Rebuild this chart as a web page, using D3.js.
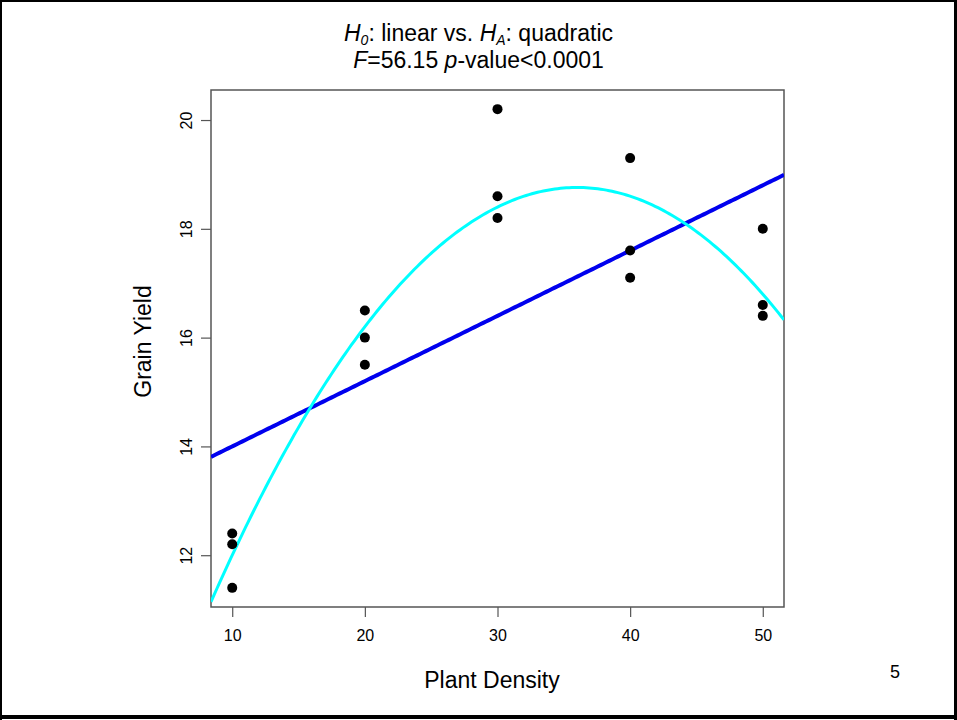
<!DOCTYPE html>
<html>
<head>
<meta charset="utf-8">
<script src="https://cdn.jsdelivr.net/npm/d3@7"></script>
<style>
  html, body { margin: 0; padding: 0; background: #fff; }
  svg { display: block; font-family: "Liberation Sans", Arial, sans-serif; }
  .tick text { font-size: 16px; font-family: "Liberation Sans", Arial, sans-serif; }
</style>
</head>
<body>
<svg id="chart" width="957" height="720"></svg>
<script>
// ---- data ----
const density    = [10, 10, 10, 20, 20, 20, 30, 30, 30, 40, 40, 40, 50, 50, 50];
const grainYield = [12.2, 12.4, 11.4, 16.0, 15.5, 16.5, 18.6, 20.2, 18.2, 17.6, 19.3, 17.1, 18.0, 16.4, 16.6];
const xTicks = [10, 20, 30, 40, 50];
const yTicks = [12, 14, 16, 18, 20];
const xLabel = "Plant Density";
const yLabel = "Grain Yield";
const fStat = "56.15";
const pText = "<0.0001";
const pageNumber = "5";

// ---- least squares fits from the data ----
function solve(A, b) {
  const n = b.length, M = A.map((r, i) => r.concat([b[i]]));
  for (let c = 0; c < n; c++) {
    let p = c;
    for (let r = c + 1; r < n; r++) if (Math.abs(M[r][c]) > Math.abs(M[p][c])) p = r;
    [M[c], M[p]] = [M[p], M[c]];
    for (let r = 0; r < n; r++) {
      if (r === c) continue;
      const f = M[r][c] / M[c][c];
      for (let k = c; k <= n; k++) M[r][k] -= f * M[c][k];
    }
  }
  return M.map((r, i) => r[n] / r[i]);
}
function polyFit(xs, ys, deg) {
  const m = deg + 1;
  const A = d3.range(m).map(i => d3.range(m).map(j => d3.sum(xs, x => Math.pow(x, i + j))));
  const b = d3.range(m).map(i => d3.sum(xs, (x, k) => Math.pow(x, i) * ys[k]));
  return solve(A, b);
}
const linCoef = polyFit(density, grainYield, 1);
const quadCoef = polyFit(density, grainYield, 2);
const evalPoly = (c, x) => c.reduce((s, a, i) => s + a * Math.pow(x, i), 0);

// ---- layout ----
const svg = d3.select("#chart");
const W = 957, H = 720;
const plot = { left: 211, right: 784, top: 90, bottom: 607 };

const xExt = d3.extent(density), yExt = d3.extent(grainYield);
const xPad = (xExt[1] - xExt[0]) * 0.04, yPad = (yExt[1] - yExt[0]) * 0.04;
const x = d3.scaleLinear().domain([xExt[0] - xPad, xExt[1] + xPad]).range([plot.left, plot.right]);
const y = d3.scaleLinear().domain([yExt[0] - yPad, yExt[1] + yPad]).range([plot.bottom, plot.top]);

// page background + outer frame
svg.append("rect").attr("x", 0).attr("y", 0).attr("width", W).attr("height", H).attr("fill", "#fff");
svg.append("rect").attr("x", 0).attr("y", 0).attr("width", W).attr("height", 2).attr("fill", "#000");
svg.append("rect").attr("x", 0).attr("y", 0).attr("width", 2).attr("height", H).attr("fill", "#000");
svg.append("rect").attr("x", W - 3).attr("y", 0).attr("width", 3).attr("height", H).attr("fill", "#000");
svg.append("rect").attr("x", 0).attr("y", H - 5).attr("width", W).attr("height", 4).attr("fill", "#000");

// clip for curves
svg.append("defs").append("clipPath").attr("id", "clip")
  .append("rect").attr("x", plot.left).attr("y", plot.top)
  .attr("width", plot.right - plot.left).attr("height", plot.bottom - plot.top);

// ---- title ----
const t1 = svg.append("text").attr("x", 478.5).attr("y", 41).attr("text-anchor", "middle")
  .attr("font-size", 23).attr("fill", "#000");
t1.append("tspan").attr("font-style", "italic").text("H");
t1.append("tspan").attr("font-style", "italic").attr("font-size", 14).attr("dy", 4).text("0");
t1.append("tspan").attr("dy", -4).text(": linear vs. ");
t1.append("tspan").attr("font-style", "italic").text("H");
t1.append("tspan").attr("font-style", "italic").attr("font-size", 14).attr("dy", 4).text("A");
t1.append("tspan").attr("dy", -4).text(": quadratic");

const t2 = svg.append("text").attr("x", 478.5).attr("y", 68).attr("text-anchor", "middle")
  .attr("font-size", 23).attr("fill", "#000");
t2.append("tspan").attr("font-style", "italic").text("F");
t2.append("tspan").text("=" + fStat + " ");
t2.append("tspan").attr("font-style", "italic").text("p");
t2.append("tspan").text("-value" + pText);

// ---- axes ----
const xAxis = svg.append("g").attr("transform", `translate(0,${plot.bottom})`)
  .call(d3.axisBottom(x).tickValues(xTicks).tickSize(10).tickSizeOuter(0).tickPadding(13));
xAxis.select(".domain").remove();
xAxis.selectAll(".tick line").attr("stroke", "#555").attr("stroke-width", 1.2);
xAxis.selectAll(".tick text").attr("fill", "#000");

const yAxis = svg.append("g").attr("transform", `translate(${plot.left},0)`)
  .call(d3.axisLeft(y).tickValues(yTicks).tickSize(10).tickSizeOuter(0));
yAxis.select(".domain").remove();
yAxis.selectAll(".tick line").attr("stroke", "#555").attr("stroke-width", 1.2);
yAxis.selectAll(".tick text")
  .attr("x", null).attr("dy", null).attr("text-anchor", "middle")
  .attr("transform", "translate(-19,0) rotate(-90)")
  .attr("fill", "#000");

// plot box
svg.append("rect").attr("x", plot.left).attr("y", plot.top)
  .attr("width", plot.right - plot.left).attr("height", plot.bottom - plot.top)
  .attr("fill", "none").attr("stroke", "#555").attr("stroke-width", 1.5);

// axis labels
svg.append("text").attr("x", 492).attr("y", 688).attr("text-anchor", "middle")
  .attr("font-size", 23).attr("fill", "#000").text(xLabel);
svg.append("text").attr("transform", `translate(151,${(plot.top + plot.bottom) / 2 - 7}) rotate(-90)`)
  .attr("text-anchor", "middle").attr("font-size", 23).attr("fill", "#000").text(yLabel);

// ---- fitted curves ----
const xs = d3.range(0, 201).map(i => x.domain()[0] + (x.domain()[1] - x.domain()[0]) * i / 200);
const lineGen = c => d3.line().x(d => x(d)).y(d => y(evalPoly(c, d)))(xs);

const g = svg.append("g").attr("clip-path", "url(#clip)");
g.append("path").attr("d", lineGen(linCoef)).attr("fill", "none")
  .attr("stroke", "#0000ee").attr("stroke-width", 4);
g.append("path").attr("d", lineGen(quadCoef)).attr("fill", "none")
  .attr("stroke", "#00ffff").attr("stroke-width", 3);

// ---- points ----
svg.append("g").selectAll("circle").data(density).join("circle")
  .attr("cx", d => x(d)).attr("cy", (d, i) => y(grainYield[i]))
  .attr("r", 5).attr("fill", "#000");

// page number
svg.append("text").attr("x", 895).attr("y", 678).attr("text-anchor", "middle")
  .attr("font-size", 18).attr("fill", "#000").text(pageNumber);
</script>
</body>
</html>
